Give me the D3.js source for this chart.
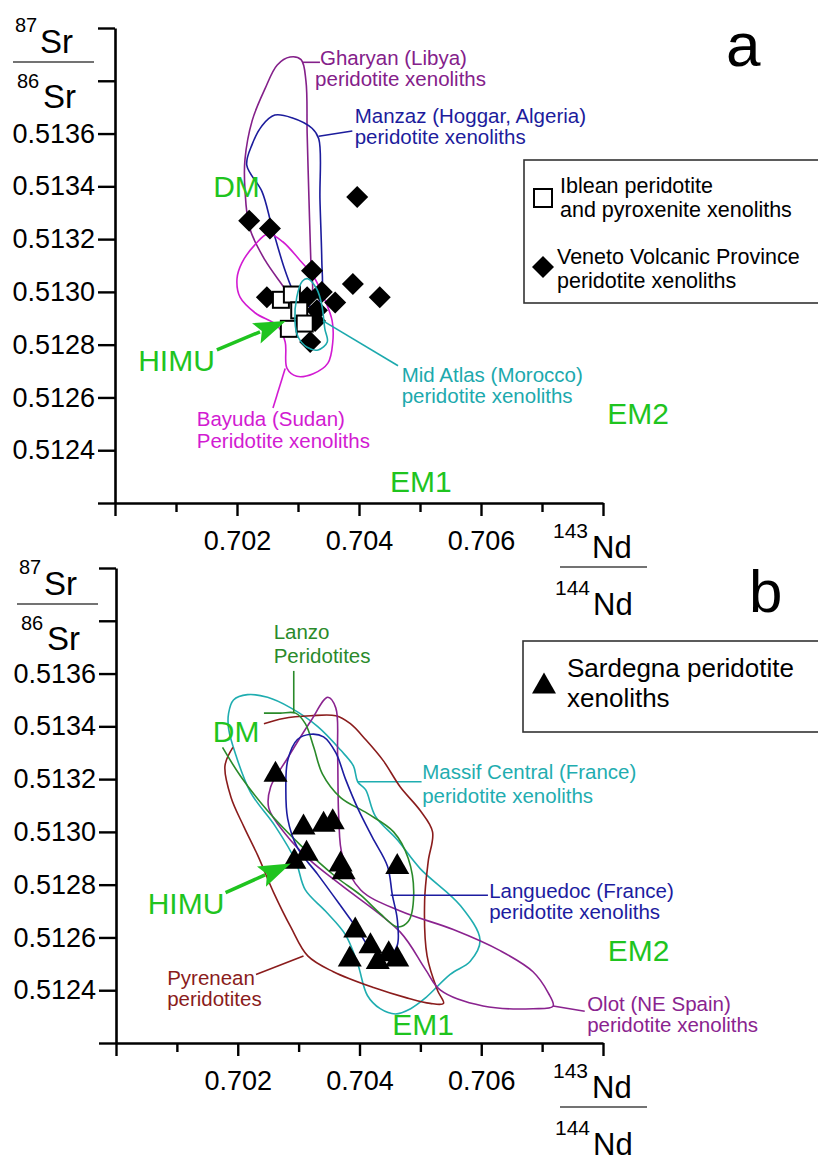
<!DOCTYPE html>
<html><head><meta charset="utf-8">
<script src="https://cdn.jsdelivr.net/npm/d3@7"></script>
<style>
body{margin:0;background:#fff}
svg{display:block}
text{font-family:"Liberation Sans",Arial,Helvetica,sans-serif}
</style>
</head><body>
<svg id="chart" width="818" height="1164"></svg>
<script>
// ---------------- DATA ----------------
const xTickValues = [0.700,0.701,0.702,0.703,0.704,0.705,0.706,0.707,0.708];
const xTickLabels = ["0.702","0.704","0.706"];
const yTickValues = [0.5122,0.5124,0.5126,0.5128,0.5130,0.5132,0.5134,0.5136,0.5138,0.5140];
const yTickLabels = ["0.5124","0.5126","0.5128","0.5130","0.5132","0.5134","0.5136"];

// Panel a markers [Sr-axis value, Nd-axis value]
const ibleanSquares = [[0.70272,0.51297],[0.70290,0.51299],[0.70302,0.51293],[0.70285,0.51286],[0.70311,0.51288]];
const venetoDiamonds = [[0.70220,0.51327],[0.70254,0.51324],[0.70397,0.51336],[0.70323,0.51308],[0.70390,0.51303],
  [0.70434,0.51298],[0.70249,0.51298],[0.70315,0.51298],[0.70339,0.51300],[0.70361,0.51296],[0.70331,0.51293],
  [0.70320,0.51281],[0.70328,0.51289]];
// Panel b markers
const sardegnaTriangles = [[0.70262,0.51323],[0.70308,0.51303],[0.70341,0.51304],[0.70356,0.51305],[0.70293,0.51290],
  [0.70313,0.51293],[0.70369,0.51289],[0.70374,0.51286],[0.70462,0.51288],[0.70393,0.51264],[0.70418,0.51258],
  [0.70384,0.51253],[0.70430,0.51252],[0.70448,0.51255],[0.70462,0.51253]];

// Panel a field outlines
const gharyanOutline = [[0.70287,0.51389],[0.70305,0.51388],[0.70313,0.51380],[0.70315,0.51360],[0.70318,0.51335],[0.70321,0.51312],
  [0.70323,0.51299],[0.70311,0.51294],[0.70295,0.51295],[0.70279,0.51301],[0.70246,0.51312],[0.70221,0.51324],[0.70213,0.51339],
  [0.70213,0.51350],[0.70225,0.51365],[0.70246,0.51377],[0.70266,0.51386]];
const manzazOutline = [[0.70216,0.51348],[0.70225,0.51356],[0.70241,0.51363],[0.70262,0.51367],[0.70290,0.51366],[0.70323,0.51362],
  [0.70334,0.51358],[0.70336,0.51335],[0.70339,0.51312],[0.70339,0.51300],[0.70330,0.51295],[0.70311,0.51295],[0.70295,0.51299],
  [0.70279,0.51308],[0.70257,0.51325],[0.70241,0.51338]];
const bayudaOutline = [[0.70251,0.51322],[0.70275,0.51319],[0.70303,0.51312],[0.70325,0.51306],[0.70344,0.51297],[0.70356,0.51289],
  [0.70357,0.51281],[0.70349,0.51273],[0.70325,0.51269],[0.70298,0.51268],[0.70282,0.51271],[0.70279,0.51281],[0.70267,0.51287],
  [0.70230,0.51292],[0.70205,0.51298],[0.70200,0.51305],[0.70208,0.51311],[0.70230,0.51318]];
const midAtlasOutline = [[0.70307,0.51304],[0.70316,0.51305],[0.70331,0.51301],[0.70339,0.51295],[0.70344,0.51286],[0.70348,0.51281],
  [0.70333,0.51278],[0.70315,0.51279],[0.70300,0.51283],[0.70295,0.51289],[0.70298,0.51298]];

// Panel b field outlines
const massifCentralOutline = [[0.70185,0.51345],[0.70193,0.51350],[0.70216,0.51352],[0.70249,0.51351],[0.70287,0.51347],[0.70331,0.51340],
  [0.70369,0.51331],[0.70390,0.51325],[0.70397,0.51319],[0.70410,0.51316],[0.70426,0.51306],[0.70462,0.51297],[0.70500,0.51286],
  [0.70566,0.51272],[0.70598,0.51259],[0.70582,0.51251],[0.70549,0.51246],[0.70508,0.51237],[0.70484,0.51233],[0.70459,0.51231],
  [0.70434,0.51233],[0.70413,0.51238],[0.70397,0.51250],[0.70377,0.51261],[0.70344,0.51270],[0.70311,0.51278],[0.70295,0.51289],
  [0.70262,0.51302],[0.70221,0.51315],[0.70197,0.51329],[0.70185,0.51339]];
const lanzoOutline = [[0.70243,0.51345],[0.70270,0.51345],[0.70295,0.51345],[0.70311,0.51341],[0.70325,0.51332],[0.70339,0.51322],
  [0.70369,0.51313],[0.70413,0.51307],[0.70456,0.51300],[0.70480,0.51290],[0.70489,0.51276],[0.70480,0.51266],[0.70462,0.51264],
  [0.70434,0.51269],[0.70402,0.51276],[0.70361,0.51283],[0.70303,0.51295],[0.70249,0.51308],[0.70205,0.51321],[0.70175,0.51332]];
const olotOutline = [[0.70348,0.51351],[0.70361,0.51347],[0.70364,0.51330],[0.70366,0.51305],[0.70372,0.51291],[0.70402,0.51278],
  [0.70467,0.51270],[0.70554,0.51263],[0.70631,0.51255],[0.70685,0.51247],[0.70710,0.51239],[0.70718,0.51234],[0.70685,0.51233],
  [0.70603,0.51234],[0.70533,0.51240],[0.70508,0.51248],[0.70467,0.51262],[0.70369,0.51280],[0.70320,0.51289],[0.70279,0.51299],
  [0.70251,0.51309],[0.70254,0.51317],[0.70282,0.51328],[0.70320,0.51342]];
const languedocOutline = [[0.70320,0.51337],[0.70341,0.51336],[0.70361,0.51330],[0.70377,0.51320],[0.70397,0.51309],[0.70421,0.51298],
  [0.70446,0.51287],[0.70454,0.51276],[0.70462,0.51267],[0.70462,0.51257],[0.70448,0.51253],[0.70421,0.51255],[0.70397,0.51263],
  [0.70369,0.51272],[0.70331,0.51284],[0.70298,0.51294],[0.70282,0.51305],[0.70279,0.51316],[0.70282,0.51327],[0.70298,0.51335]];
const pyreneanOutline = [[0.70243,0.51341],[0.70275,0.51343],[0.70320,0.51344],[0.70361,0.51344],[0.70385,0.51341],[0.70410,0.51335],
  [0.70439,0.51327],[0.70467,0.51317],[0.70500,0.51308],[0.70520,0.51300],[0.70513,0.51289],[0.70507,0.51274],[0.70511,0.51253],
  [0.70528,0.51240],[0.70538,0.51235],[0.70516,0.51235],[0.70479,0.51237],[0.70423,0.51241],[0.70357,0.51247],[0.70315,0.51253],
  [0.70287,0.51264],[0.70259,0.51277],[0.70233,0.51291],[0.70210,0.51302],[0.70189,0.51313],[0.70179,0.51325],[0.70192,0.51332]];

// leader lines (data space)
const gharyanLeader = [[0.70308,0.51387],[0.70336,0.51387]];
const manzazLeader = [[0.70334,0.51359],[0.70389,0.51361]];
const bayudaLeader = [[0.70279,0.51271],[0.70259,0.51256]];
const midAtlasLeader = [[0.70341,0.51289],[0.70464,0.51272]];
const massifLeader = [[0.70397,0.51319],[0.70502,0.51319]];
const lanzoLeader = [[0.70292,0.51345],[0.70292,0.51361]];
const languedocLeader = [[0.70451,0.51276],[0.70611,0.51276]];
const olotLeader = [[0.70718,0.51234],[0.70770,0.51232]];
const pyreneanLeader = [[0.70308,0.51253],[0.70230,0.51246]];

// HIMU arrows (data space)
const himuArrowA = [[0.70167,0.51278],[0.70280,0.51289]];
const himuArrowB = [[0.70180,0.51277],[0.70287,0.51288]];

// ---------------- STYLE / CONFIG ----------------
const GREEN = "#1fc41f";
const fieldsA = [
  {pts:gharyanOutline, closed:true, color:"#84208a", leader:gharyanLeader,
   lines:[["Gharyan (Libya)",0.70336,0.51386],["peridotite xenoliths",0.70328,0.51378]]},
  {pts:manzazOutline, closed:true, color:"#1c1c9c", leader:manzazLeader,
   lines:[["Manzaz (Hoggar, Algeria)",0.70393,0.51364],["peridotite xenoliths",0.70393,0.51356]]},
  {pts:bayudaOutline, closed:true, color:"#d21bd2", leader:bayudaLeader,
   lines:[["Bayuda (Sudan)",0.70134,0.51249],["Peridotite xenoliths",0.70134,0.51241]]}
];
const fieldsATop = [
  {pts:midAtlasOutline, closed:true, color:"#1ca9ad", leader:midAtlasLeader,
   lines:[["Mid Atlas (Morocco)",0.70470,0.51266],["peridotite xenoliths",0.70470,0.51258]]}
];
const fieldsB = [
  {pts:massifCentralOutline, closed:true, color:"#1fadb0", leader:massifLeader,
   lines:[["Massif Central (France)",0.70503,0.51320],["peridotite xenoliths",0.70503,0.51311]]},
  {pts:pyreneanOutline, closed:false, color:"#8a1c1c", leader:pyreneanLeader,
   lines:[["Pyrenean",0.70084,0.51242],["peridotites",0.70084,0.51234]]},
  {pts:olotOutline, closed:true, color:"#8a238f", leader:olotLeader,
   lines:[["Olot (NE Spain)",0.70774,0.51232],["peridotite xenoliths",0.70774,0.51224]]},
  {pts:lanzoOutline, closed:false, color:"#2a8a2a", leader:lanzoLeader,
   lines:[["Lanzo",0.70259,0.51373],["Peridotites",0.70259,0.51364]]},
  {pts:languedocOutline, closed:true, color:"#1c1ca0", leader:languedocLeader,
   lines:[["Languedoc (France)",0.70613,0.51275],["peridotite xenoliths",0.70613,0.51267]]}
];
const endMembersA = [["DM",0.70161,0.51336],["HIMU",0.70038,0.51270],["EM2",0.70807,0.51250],["EM1",0.70451,0.51224]];
const endMembersB = [["DM",0.70159,0.51334],["HIMU",0.70052,0.51269],["EM2",0.70808,0.51251],["EM1",0.70454,0.51223]];

const svg = d3.select("#chart");
svg.append("rect").attr("width",818).attr("height",1164).attr("fill","#fff");

function makePanel(cfg){
  const g = svg.append("g");
  const x = d3.scaleLinear().domain([0.700,0.708]).range([cfg.left,cfg.right]);
  const y = d3.scaleLinear().domain([0.5122,0.5140]).range([cfg.bottom,cfg.top]);

  const yAxis = d3.axisLeft(y).tickValues(yTickValues).tickSize(17).tickSizeOuter(0).tickPadding(3)
    .tickFormat(d => yTickLabels.includes(d.toFixed(4)) ? d.toFixed(4) : "");
  const ya = g.append("g").attr("transform",`translate(${cfg.left},0)`).call(yAxis);
  const xAxis = d3.axisBottom(x).tickValues(xTickValues).tickSize(9).tickSizeOuter(0)
    .tickFormat(d => xTickLabels.includes(d.toFixed(3)) ? d.toFixed(3) : "");
  const xa = g.append("g").attr("transform",`translate(0,${cfg.bottom})`).call(xAxis);
  xa.selectAll(".tick line").attr("y2", d => (Math.round(d*1000)%2===0) ? 13 : 9);
  xa.selectAll(".tick text").attr("y",47).attr("dy",null);
  [ya,xa].forEach(a=>{
    a.attr("font-family",null).attr("font-size",null);
    a.select(".domain").attr("stroke","#000").attr("stroke-width",2.6);
    a.selectAll(".tick line").attr("stroke","#000").attr("stroke-width",2.4);
    a.selectAll(".tick text").attr("fill","#000").style("font-size","27px");
  });

  const lineGen = (closed) => d3.line().x(d=>x(d[0])).y(d=>y(d[1]))
      .curve(closed ? d3.curveCatmullRomClosed.alpha(0.5) : d3.curveCatmullRom.alpha(0.5));
  const straight = d3.line().x(d=>x(d[0])).y(d=>y(d[1]));

  function drawFields(list){
    list.forEach(f=>{
      g.append("path").attr("d",lineGen(f.closed)(f.pts)).attr("fill","none")
        .attr("stroke",f.color).attr("stroke-width",1.6);
      g.append("path").attr("d",straight(f.leader)).attr("fill","none")
        .attr("stroke",f.color).attr("stroke-width",1.6);
      f.lines.forEach(l=>{
        g.append("text").attr("x",x(l[1])).attr("y",y(l[2])).attr("fill",f.color)
          .style("font-size","20.5px").text(l[0]);
      });
    });
  }
  return {g,x,y,drawFields,straight};
}

function arrow(P, pts){
  const x0=P.x(pts[0][0]), y0=P.y(pts[0][1]), x1=P.x(pts[1][0]), y1=P.y(pts[1][1]);
  const dx=x1-x0, dy=y1-y0, L=Math.hypot(dx,dy), ux=dx/L, uy=dy/L;
  const hl=32, hw=11;
  const bx=x1-ux*hl, by=y1-uy*hl;
  P.g.append("line").attr("x1",x0).attr("y1",y0).attr("x2",bx+ux*4).attr("y2",by+uy*4)
    .attr("stroke",GREEN).attr("stroke-width",3.5);
  P.g.append("path").attr("d",`M${x1},${y1}L${bx-uy*hw},${by+ux*hw}L${bx+ux*6},${by+uy*6}L${bx+uy*hw},${by-ux*hw}Z`)
    .attr("fill",GREEN);
}

function endMembers(P, list){
  list.forEach(l=>{
    P.g.append("text").attr("x",P.x(l[1])).attr("y",P.y(l[2])).attr("fill",GREEN)
      .style("font-size","30px").text(l[0]);
  });
}

function fracTitle(g, ox, oy, sup1, main1, sup2, main2, lineX1, lineX2, lineY, supSize, mainSize, pos){
  g.append("text").attr("x",ox+pos[0]).attr("y",oy+pos[1]).style("font-size",supSize+"px").text(sup1);
  g.append("text").attr("x",ox+pos[2]).attr("y",oy+pos[3]).style("font-size",mainSize+"px").text(main1);
  g.append("line").attr("x1",ox+lineX1).attr("x2",ox+lineX2).attr("y1",oy+lineY).attr("y2",oy+lineY)
    .attr("stroke","#444").attr("stroke-width",1.5);
  g.append("text").attr("x",ox+pos[4]).attr("y",oy+pos[5]).style("font-size",supSize+"px").text(sup2);
  g.append("text").attr("x",ox+pos[6]).attr("y",oy+pos[7]).style("font-size",mainSize+"px").text(main2);
}

// ---------------- PANEL A ----------------
const A = makePanel({left:115,right:603,top:28,bottom:503});
A.drawFields(fieldsA);
A.g.selectAll("path.dia").data(venetoDiamonds).join("path").attr("class","dia")
  .attr("transform",d=>`translate(${A.x(d[0])},${A.y(d[1])})`)
  .attr("d","M0,-11L11,0L0,11L-11,0Z").attr("fill","#000");
A.g.selectAll("rect.sq").data(ibleanSquares).join("rect").attr("class","sq")
  .attr("x",d=>A.x(d[0])-8).attr("y",d=>A.y(d[1])-8).attr("width",16).attr("height",16)
  .attr("fill","#fff").attr("stroke","#000").attr("stroke-width",2);
A.drawFields(fieldsATop);
endMembers(A, endMembersA);
arrow(A, himuArrowA);
fracTitle(svg,0,0,"87","Sr","86","Sr",13,94,62,20,33,[15,32,40,53,17,88,43,108]);
fracTitle(svg,0,0,"143","Nd","144","Nd",560,647,567,21,31,[553,538,592,558,555,595,593,615]);
svg.append("text").attr("x",726).attr("y",66).style("font-size","62px").text("a");
// legend a
svg.append("rect").attr("x",524).attr("y",160).attr("width",310).attr("height",143)
  .attr("fill","#fff").attr("stroke","#333").attr("stroke-width",1.6);
svg.append("rect").attr("x",534).attr("y",189).attr("width",18).attr("height",18)
  .attr("fill","#fff").attr("stroke","#000").attr("stroke-width",2);
svg.append("path").attr("transform","translate(543,267)").attr("d","M0,-11L11,0L0,11L-11,0Z").attr("fill","#000");
[["Iblean peridotite",560,193],["and pyroxenite xenoliths",560,217],
 ["Veneto Volcanic Province",557,264],["peridotite xenoliths",557,288]].forEach(t=>{
  svg.append("text").attr("x",t[1]).attr("y",t[2]).style("font-size","21.5px").text(t[0]);
});

// ---------------- PANEL B ----------------
const B = makePanel({left:116,right:603,top:568,bottom:1043});
B.drawFields(fieldsB);
B.g.selectAll("path.tri").data(sardegnaTriangles).join("path").attr("class","tri")
  .attr("transform",d=>`translate(${B.x(d[0])},${B.y(d[1])})`)
  .attr("d","M0,-10.5L12,10.5L-12,10.5Z").attr("fill","#000");
endMembers(B, endMembersB);
arrow(B, himuArrowB);
fracTitle(svg,4,542,"87","Sr","86","Sr",13,94,62,20,33,[15,32,40,53,17,88,43,108]);
fracTitle(svg,0,540,"143","Nd","144","Nd",560,647,567,21,31,[553,538,592,558,555,595,593,615]);
svg.append("text").attr("x",749).attr("y",612).style("font-size","60px").text("b");
// legend b
svg.append("rect").attr("x",523).attr("y",641).attr("width",310).attr("height",91)
  .attr("fill","#fff").attr("stroke","#333").attr("stroke-width",1.6);
svg.append("path").attr("transform","translate(544,683)").attr("d","M0,-10.5L12,10.5L-12,10.5Z").attr("fill","#000");
[["Sardegna peridotite",567,677],["xenoliths",567,707]].forEach(t=>{
  svg.append("text").attr("x",t[1]).attr("y",t[2]).style("font-size","26px").text(t[0]);
});
</script>
</body></html>
